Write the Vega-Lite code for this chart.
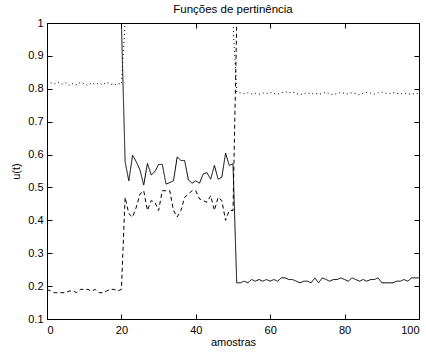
{
  "$schema": "https://vega.github.io/schema/vega-lite/v6.json",
  "width": 372,
  "height": 296,
  "autosize": {"type": "none"},
  "padding": {"left": 47, "top": 23, "right": 7, "bottom": 33},
  "background": "white",
  "title": {"text": "Funções de pertinência", "font": "Liberation Sans", "fontSize": 11.5, "fontWeight": "normal", "color": "black", "offset": 2},
  "config": {
    "view": {"stroke": "black", "strokeWidth": 1},
    "axis": {"grid": false, "domainColor": "black", "tickColor": "black", "labelColor": "black", "titleColor": "black", "labelFont": "Liberation Sans", "titleFont": "Liberation Sans", "labelFontSize": 11, "titleFontSize": 11, "titleFontWeight": "normal", "tickSize": -5}
  },
  "datasets": {
    "d": [
      {"x":0,"v":1,"s":"solid"},{"x":20,"v":1,"s":"solid"},
      {"x":21,"v":0.578,"s":"solid"},{"x":22,"v":0.52,"s":"solid"},{"x":23,"v":0.598,"s":"solid"},{"x":24,"v":0.578,"s":"solid"},{"x":25,"v":0.553,"s":"solid"},{"x":26,"v":0.507,"s":"solid"},{"x":27,"v":0.573,"s":"solid"},{"x":28,"v":0.538,"s":"solid"},{"x":29,"v":0.548,"s":"solid"},{"x":30,"v":0.57,"s":"solid"},{"x":31,"v":0.57,"s":"solid"},{"x":32,"v":0.51,"s":"solid"},{"x":33,"v":0.515,"s":"solid"},{"x":34,"v":0.52,"s":"solid"},{"x":35,"v":0.593,"s":"solid"},{"x":36,"v":0.582,"s":"solid"},{"x":37,"v":0.582,"s":"solid"},{"x":38,"v":0.523,"s":"solid"},{"x":39,"v":0.513,"s":"solid"},{"x":40,"v":0.52,"s":"solid"},{"x":41,"v":0.513,"s":"solid"},{"x":42,"v":0.541,"s":"solid"},{"x":43,"v":0.545,"s":"solid"},{"x":44,"v":0.525,"s":"solid"},{"x":45,"v":0.567,"s":"solid"},{"x":46,"v":0.525,"s":"solid"},{"x":47,"v":0.531,"s":"solid"},{"x":48,"v":0.604,"s":"solid"},{"x":49,"v":0.567,"s":"solid"},{"x":50,"v":0.572,"s":"solid"},
      {"x":51,"v":0.21,"s":"solid"},{"x":52,"v":0.21,"s":"solid"},{"x":53,"v":0.215,"s":"solid"},{"x":54,"v":0.21,"s":"solid"},{"x":55,"v":0.22,"s":"solid"},{"x":56,"v":0.215,"s":"solid"},{"x":57,"v":0.22,"s":"solid"},{"x":58,"v":0.215,"s":"solid"},{"x":59,"v":0.22,"s":"solid"},{"x":60,"v":0.215,"s":"solid"},{"x":61,"v":0.22,"s":"solid"},{"x":62,"v":0.215,"s":"solid"},{"x":63,"v":0.225,"s":"solid"},{"x":64,"v":0.225,"s":"solid"},{"x":65,"v":0.22,"s":"solid"},{"x":66,"v":0.22,"s":"solid"},{"x":67,"v":0.215,"s":"solid"},{"x":68,"v":0.21,"s":"solid"},{"x":69,"v":0.215,"s":"solid"},{"x":70,"v":0.215,"s":"solid"},{"x":71,"v":0.21,"s":"solid"},{"x":72,"v":0.225,"s":"solid"},{"x":73,"v":0.21,"s":"solid"},{"x":74,"v":0.225,"s":"solid"},{"x":75,"v":0.22,"s":"solid"},{"x":76,"v":0.215,"s":"solid"},{"x":77,"v":0.22,"s":"solid"},{"x":78,"v":0.22,"s":"solid"},{"x":79,"v":0.225,"s":"solid"},{"x":80,"v":0.22,"s":"solid"},{"x":81,"v":0.215,"s":"solid"},{"x":82,"v":0.225,"s":"solid"},{"x":83,"v":0.22,"s":"solid"},{"x":84,"v":0.215,"s":"solid"},{"x":85,"v":0.22,"s":"solid"},{"x":86,"v":0.215,"s":"solid"},{"x":87,"v":0.22,"s":"solid"},{"x":88,"v":0.22,"s":"solid"},{"x":89,"v":0.225,"s":"solid"},{"x":90,"v":0.21,"s":"solid"},{"x":91,"v":0.21,"s":"solid"},{"x":92,"v":0.21,"s":"solid"},{"x":93,"v":0.21,"s":"solid"},{"x":94,"v":0.215,"s":"solid"},{"x":95,"v":0.215,"s":"solid"},{"x":96,"v":0.22,"s":"solid"},{"x":97,"v":0.215,"s":"solid"},{"x":98,"v":0.225,"s":"solid"},{"x":99,"v":0.225,"s":"solid"},{"x":100,"v":0.225,"s":"solid"},
      {"x":0,"v":0.19,"s":"dashed"},{"x":1,"v":0.185,"s":"dashed"},{"x":2,"v":0.18,"s":"dashed"},{"x":3,"v":0.18,"s":"dashed"},{"x":4,"v":0.18,"s":"dashed"},{"x":5,"v":0.18,"s":"dashed"},{"x":6,"v":0.185,"s":"dashed"},{"x":7,"v":0.185,"s":"dashed"},{"x":8,"v":0.18,"s":"dashed"},{"x":9,"v":0.19,"s":"dashed"},{"x":10,"v":0.19,"s":"dashed"},{"x":11,"v":0.19,"s":"dashed"},{"x":12,"v":0.185,"s":"dashed"},{"x":13,"v":0.19,"s":"dashed"},{"x":14,"v":0.18,"s":"dashed"},{"x":15,"v":0.18,"s":"dashed"},{"x":16,"v":0.185,"s":"dashed"},{"x":17,"v":0.19,"s":"dashed"},{"x":18,"v":0.19,"s":"dashed"},{"x":19,"v":0.185,"s":"dashed"},{"x":20,"v":0.19,"s":"dashed"},
      {"x":21,"v":0.47,"s":"dashed"},{"x":22,"v":0.42,"s":"dashed"},{"x":23,"v":0.41,"s":"dashed"},{"x":24,"v":0.44,"s":"dashed"},{"x":25,"v":0.48,"s":"dashed"},{"x":26,"v":0.49,"s":"dashed"},{"x":27,"v":0.43,"s":"dashed"},{"x":28,"v":0.46,"s":"dashed"},{"x":29,"v":0.455,"s":"dashed"},{"x":30,"v":0.43,"s":"dashed"},{"x":31,"v":0.49,"s":"dashed"},{"x":32,"v":0.49,"s":"dashed"},{"x":33,"v":0.49,"s":"dashed"},{"x":34,"v":0.43,"s":"dashed"},{"x":35,"v":0.41,"s":"dashed"},{"x":36,"v":0.43,"s":"dashed"},{"x":37,"v":0.47,"s":"dashed"},{"x":38,"v":0.48,"s":"dashed"},{"x":39,"v":0.49,"s":"dashed"},{"x":40,"v":0.49,"s":"dashed"},{"x":41,"v":0.465,"s":"dashed"},{"x":42,"v":0.46,"s":"dashed"},{"x":43,"v":0.455,"s":"dashed"},{"x":44,"v":0.475,"s":"dashed"},{"x":45,"v":0.43,"s":"dashed"},{"x":46,"v":0.47,"s":"dashed"},{"x":47,"v":0.46,"s":"dashed"},{"x":48,"v":0.40,"s":"dashed"},{"x":49,"v":0.43,"s":"dashed"},{"x":50,"v":0.43,"s":"dashed"},
      {"x":51,"v":1,"s":"dashed"},{"x":100,"v":1,"s":"dashed"},
      {"x":0,"v":0.812,"s":"dotted"},{"x":1,"v":0.818,"s":"dotted"},{"x":2,"v":0.815,"s":"dotted"},{"x":3,"v":0.82,"s":"dotted"},{"x":4,"v":0.814,"s":"dotted"},{"x":5,"v":0.818,"s":"dotted"},{"x":6,"v":0.81,"s":"dotted"},{"x":7,"v":0.816,"s":"dotted"},{"x":8,"v":0.812,"s":"dotted"},{"x":9,"v":0.82,"s":"dotted"},{"x":10,"v":0.815,"s":"dotted"},{"x":11,"v":0.81,"s":"dotted"},{"x":12,"v":0.818,"s":"dotted"},{"x":13,"v":0.813,"s":"dotted"},{"x":14,"v":0.817,"s":"dotted"},{"x":15,"v":0.812,"s":"dotted"},{"x":16,"v":0.82,"s":"dotted"},{"x":17,"v":0.815,"s":"dotted"},{"x":18,"v":0.811,"s":"dotted"},{"x":19,"v":0.816,"s":"dotted"},{"x":20,"v":0.814,"s":"dotted"},
      {"x":21,"v":1,"s":"dotted"},{"x":50,"v":1,"s":"dotted"},
      {"x":51,"v":0.79,"s":"dotted"},{"x":52,"v":0.787,"s":"dotted"},{"x":53,"v":0.785,"s":"dotted"},{"x":54,"v":0.788,"s":"dotted"},{"x":55,"v":0.784,"s":"dotted"},{"x":56,"v":0.786,"s":"dotted"},{"x":57,"v":0.783,"s":"dotted"},{"x":58,"v":0.787,"s":"dotted"},{"x":59,"v":0.785,"s":"dotted"},{"x":60,"v":0.789,"s":"dotted"},{"x":61,"v":0.786,"s":"dotted"},{"x":62,"v":0.783,"s":"dotted"},{"x":63,"v":0.788,"s":"dotted"},{"x":64,"v":0.791,"s":"dotted"},{"x":65,"v":0.787,"s":"dotted"},{"x":66,"v":0.79,"s":"dotted"},{"x":67,"v":0.786,"s":"dotted"},{"x":68,"v":0.782,"s":"dotted"},{"x":69,"v":0.785,"s":"dotted"},{"x":70,"v":0.788,"s":"dotted"},{"x":71,"v":0.784,"s":"dotted"},{"x":72,"v":0.787,"s":"dotted"},{"x":73,"v":0.783,"s":"dotted"},{"x":74,"v":0.786,"s":"dotted"},{"x":75,"v":0.789,"s":"dotted"},{"x":76,"v":0.785,"s":"dotted"},{"x":77,"v":0.782,"s":"dotted"},{"x":78,"v":0.786,"s":"dotted"},{"x":79,"v":0.789,"s":"dotted"},{"x":80,"v":0.786,"s":"dotted"},{"x":81,"v":0.784,"s":"dotted"},{"x":82,"v":0.788,"s":"dotted"},{"x":83,"v":0.785,"s":"dotted"},{"x":84,"v":0.782,"s":"dotted"},{"x":85,"v":0.786,"s":"dotted"},{"x":86,"v":0.789,"s":"dotted"},{"x":87,"v":0.787,"s":"dotted"},{"x":88,"v":0.784,"s":"dotted"},{"x":89,"v":0.788,"s":"dotted"},{"x":90,"v":0.79,"s":"dotted"},{"x":91,"v":0.787,"s":"dotted"},{"x":92,"v":0.785,"s":"dotted"},{"x":93,"v":0.788,"s":"dotted"},{"x":94,"v":0.786,"s":"dotted"},{"x":95,"v":0.784,"s":"dotted"},{"x":96,"v":0.787,"s":"dotted"},{"x":97,"v":0.785,"s":"dotted"},{"x":98,"v":0.783,"s":"dotted"},{"x":99,"v":0.786,"s":"dotted"},{"x":100,"v":0.785,"s":"dotted"}
    ]
  },
  "data": {"name": "d"},
  "layer": [
    {
      "mark": {"type": "line", "color": "black", "strokeWidth": 1, "clip": true},
      "encoding": {
        "x": {"field": "x", "type": "quantitative", "scale": {"domain": [0, 100], "nice": false, "zero": false},
              "axis": {"orient": "bottom", "values": [0, 20, 40, 60, 80, 100], "title": "amostras", "labelPadding": 10, "titlePadding": 1}},
        "y": {"field": "v", "type": "quantitative", "scale": {"domain": [0.1, 1], "nice": false, "zero": false},
              "axis": {"orient": "left", "values": [0.1, 0.2, 0.3, 0.4, 0.5, 0.6, 0.7, 0.8, 0.9, 1], "format": "~g", "title": "u(t)", "labelPadding": 9, "titlePadding": 6}},
        "detail": {"field": "s"},
        "strokeDash": {"field": "s", "type": "nominal", "scale": {"domain": ["solid", "dashed", "dotted"], "range": [[1, 0], [4, 3], [1, 3]]}, "legend": null}
      }
    },
    {
      "mark": {"type": "point", "opacity": 0},
      "encoding": {
        "x": {"field": "x", "type": "quantitative", "axis": {"orient": "top", "values": [0, 20, 40, 60, 80, 100], "labels": false, "title": null}},
        "y": {"field": "v", "type": "quantitative", "axis": {"orient": "right", "values": [0.1, 0.2, 0.3, 0.4, 0.5, 0.6, 0.7, 0.8, 0.9, 1], "labels": false, "title": null}}
      }
    }
  ],
  "resolve": {"axis": {"x": "independent", "y": "independent"}}
}
